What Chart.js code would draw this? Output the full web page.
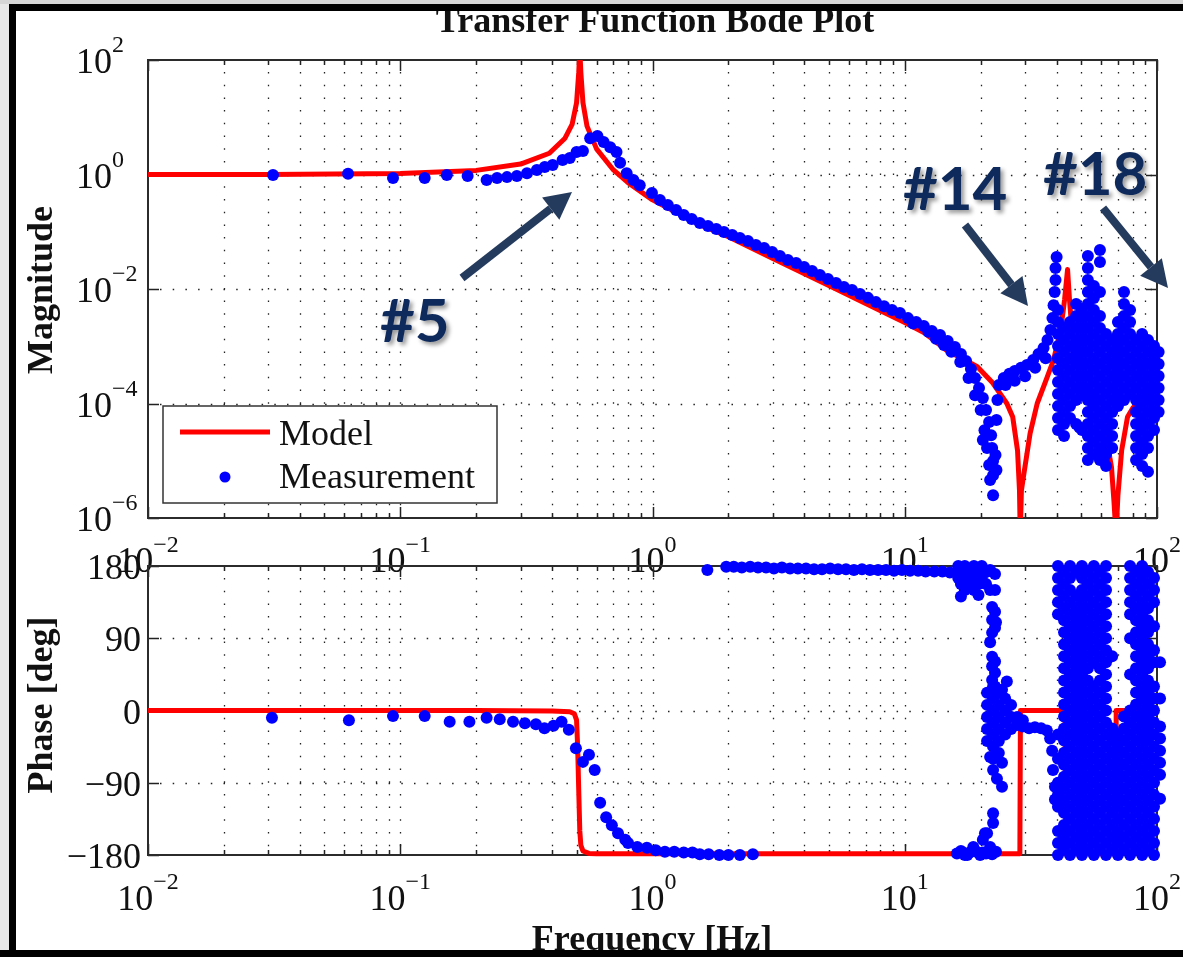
<!DOCTYPE html>
<html>
<head>
<meta charset="utf-8">
<title>Transfer Function Bode Plot</title>
<script src="https://cdn.jsdelivr.net/npm/chart.js@4.4.1/dist/chart.umd.min.js"></script>
<style>
  body { margin: 0; background: #fff; }
  #page { position: relative; width: 1183px; height: 957px; overflow: hidden; background: #fff; }
  #page canvas { position: absolute; left: 0; top: 0; }
  .frame { position: absolute; background: #000; }
</style>
</head>
<body>
<div id="page">
  <canvas id="magChart" width="1183" height="957"></canvas>
  <canvas id="phaseChart" width="1183" height="957"></canvas>
  <div class="frame" style="left:0;top:0;width:1183px;height:4px;background:#d6d6d6"></div>
  <div class="frame" style="left:0;top:4px;width:1183px;height:7px"></div>
  <div class="frame" style="left:0;top:4px;width:9px;height:953px;background:#e8e8e8"></div>
  <div class="frame" style="left:9px;top:4px;width:7px;height:953px"></div>
  <div class="frame" style="left:0;top:950px;width:1183px;height:7px"></div>
</div>
<script>
// ---- eixos / ticks ----
const xMajor = [0.01, 0.1, 1, 10, 100];
const xMajorExp = [-2, -1, 0, 1, 2];
const xMinor = [0.02, 0.03, 0.04, 0.05, 0.06, 0.07, 0.08, 0.09,
                0.2, 0.3, 0.4, 0.5, 0.6, 0.7, 0.8, 0.9,
                2, 3, 4, 5, 6, 7, 8, 9,
                20, 30, 40, 50, 60, 70, 80, 90];
const magTicks = [1e-6, 1e-4, 1e-2, 1, 100];
const magTickExp = [-6, -4, -2, 0, 2];
const phaseTicks = [-180, -90, 0, 90, 180];
const phaseTickLabels = ['\u2212180', '\u221290', '0', '90', '180'];

// ---- modelo (linha vermelha) ----
const modelMag = [
  [0.01, 1.0], [0.03, 1.0], [0.1, 1.04], [0.2, 1.18], [0.3, 1.52], [0.39, 2.35], [0.45, 4.3],
  [0.48, 7.5], [0.50, 18], [0.51, 60], [0.515, 150], [0.52, 60], [0.53, 18], [0.55, 7.0],
  [0.6, 2.8], [0.7, 1.2], [0.8, 0.72], [1.0, 0.36], [1.5, 0.14], [2.0, 0.082], [3.0, 0.034],
  [5.0, 0.0115], [7.0, 0.0056], [10, 0.0026], [12, 0.0017], [14.6, 8.6e-4], [17, 6.0e-4],
  [19.4, 4.4e-4], [22.3, 2.3e-4], [25.4, 1.0e-4], [26.8, 5.8e-5], [28.0, 1.5e-5], [28.5, 3e-6],
  [28.7, 5e-7], [29.0, 3e-6], [29.5, 5e-6], [31.4, 3e-5], [33.5, 1e-4], [36.7, 2.9e-4],
  [38.9, 5.8e-4], [41.5, 1.9e-3], [43, 6.4e-3], [44.2, 0.022], [45, 6.4e-3], [46, 1.9e-3],
  [48, 5.8e-4], [50.9, 2.3e-4], [56, 1.1e-4], [61, 5.8e-5], [66, 7.7e-6], [67.5, 2e-6],
  [68.8, 5e-7], [70, 2.5e-6], [72.4, 1.5e-5], [76.4, 5.8e-5], [80.3, 8.4e-5], [89, 1.2e-4],
  [100, 1.6e-4]
];
const modelPhase = [
  [0.01, 0], [0.2, 0], [0.4, -0.5], [0.47, -1.5], [0.49, -4], [0.50, -12], [0.505, -45],
  [0.51, -100], [0.515, -150], [0.52, -168], [0.53, -175], [0.56, -178], [0.6, -178.5],
  [28.6, -178.5], [28.75, 0], [43.2, 0], [43.4, -178.5], [68.7, -178.5], [68.9, 0], [100, 0]
];

// ---- medição: magnitude ----
const measMagLow = [
  [0.0313, 0.98], [0.0621, 1.03], [0.0936, 0.87], [0.125, 0.87], [0.153, 0.98], [0.185, 0.94],
  [0.22, 0.80], [0.242, 0.87], [0.265, 0.90], [0.29, 0.94], [0.318, 1.05], [0.348, 1.2],
  [0.374, 1.35], [0.402, 1.47], [0.44, 1.79], [0.47, 1.94], [0.50, 2.47], [0.53, 2.57],
  [0.566, 4.3], [0.605, 4.7], [0.64, 3.7], [0.68, 3.0], [0.72, 2.47], [0.744, 1.6],
  [0.79, 1.05], [0.84, 0.80], [0.89, 0.65]
];
const measMagBand = [
  [0.995, 0.475], [1.07, 0.359], [1.15, 0.293], [1.24, 0.240], [1.33, 0.196], [1.43, 0.167],
  [1.54, 0.142], [1.66, 0.126], [1.79, 0.112], [1.92, 0.099], [2.07, 0.0877], [2.22, 0.0778],
  [2.39, 0.0689], [2.57, 0.0587], [2.77, 0.052], [2.98, 0.0443], [3.20, 0.0377], [3.44, 0.0321],
  [3.71, 0.0285], [3.99, 0.0242], [4.29, 0.0206], [4.61, 0.0176], [4.96, 0.0150], [5.34, 0.0127],
  [5.74, 0.0108], [6.18, 0.0096], [6.65, 0.0082], [7.15, 0.0070], [7.69, 0.0059], [8.28, 0.0050],
  [8.90, 0.0043], [9.57, 0.0038], [10.3, 0.0031], [11.1, 0.00265], [11.9, 0.00226], [12.8, 0.00185],
  [13.8, 0.00157], [14.8, 0.00124], [15.8, 9.7e-4], [16.7, 7.3e-4], [17.5, 5.5e-4], [18.3, 4.0e-4],
  [19.0, 2.8e-4], [19.7, 1.87e-4], [20.4, 1.25e-4], [21.0, 7.7e-5], [21.6, 4.75e-5], [22.0, 2.8e-5],
  [22.2, 1.67e-5], [22.4, 9.9e-6], [22.4, 5.6e-6], [22.4, 2.5e-6],
  [10.8, 0.0025], [12.4, 0.0018], [13.3, 0.00135], [14.3, 0.00105], [15.3, 8.0e-4],
  [16.6, 5.3e-4], [17.9, 2.8e-4], [19.0, 1.4e-4], [20.0, 7.7e-5], [20.7, 3.4e-5], [21.2, 1.67e-5],
  [21.6, 8.4e-6], [20.4, 2.3e-5], [22.9, 1.26e-5], [23.1, 6.9e-6], [21.8, 4.6e-6]
];
const measMagRise = [
  [23.1, 5.15e-5], [23.3, 1.15e-4], [23.6, 2.1e-4], [24.7, 2.8e-4], [26.0, 3.3e-4], [27.3, 3.7e-4],
  [28.9, 4.2e-4], [30.5, 4.7e-4], [32.3, 5.75e-4], [33.9, 7.3e-4], [35.5, 9.3e-4], [36.8, 1.29e-3],
  [37.8, 1.92e-3], [38.5, 3.1e-3], [38.9, 5.2e-3], [39.3, 8.9e-3], [39.6, 0.0144], [39.6, 0.0233],
  [40.0, 0.0362], [25.1, 2.1e-4], [27.3, 2.5e-4], [30.0, 3.0e-4], [32.9, 4.2e-4], [36.2, 6.2e-4],
  [49.3, 3.8e-5], [61.5, 1.03e-5], [60.1, 1.5e-5]
];
// colunas da região ruidosa (acima de ~40 Hz)
const magNoiseFreq = [40.5, 42.8, 45.2, 47.8, 50.4, 53.2, 56.2, 59.4, 62.8, 66.4, 70.0, 74.0,
                      78.2, 82.6, 87.3, 92.1, 97.3, 101.5];
const magNoiseCols = [
  [0.0043, 0.00265, 0.00164, 0.00101, 6.2e-4, 3.85e-4, 2.38e-4, 1.47e-4, 9.0e-5, 5.6e-5, 3.44e-5],
  [0.00208, 0.00129, 7.9e-4, 4.9e-4, 3.02e-4, 1.87e-4, 1.15e-4, 7.1e-5, 4.4e-5, 2.7e-5],
  [0.00265, 0.00164, 0.00101, 6.2e-4, 3.85e-4, 2.38e-4, 1.47e-4, 9.0e-5, 5.6e-5],
  [0.00547, 0.00338, 0.00208, 0.00129, 7.9e-4, 4.9e-4, 3.02e-4, 1.87e-4, 1.15e-4, 4.4e-5],
  [0.0043, 0.00265, 0.00164, 0.00101, 6.2e-4, 3.85e-4, 2.38e-4, 1.47e-4, 3.44e-5],
  [0.0377, 0.0233, 0.0144, 0.00887, 0.00547, 0.00338, 0.00208, 0.00129, 7.9e-4, 4.9e-4, 3.02e-4,
   1.87e-4, 1.15e-4, 7.1e-5, 4.4e-5, 2.7e-5, 1.67e-5, 1.03e-5],
  [0.01127, 0.00697, 0.0043, 0.00265, 0.00164, 0.00101, 6.2e-4, 3.85e-4, 2.38e-4, 1.47e-4, 9.0e-5,
   5.6e-5, 3.44e-5, 2.13e-5, 1.31e-5],
  [0.048, 0.0296, 0.00887, 0.00338, 0.00208, 0.00129, 7.9e-4, 4.9e-4, 3.02e-4, 1.87e-4, 1.15e-4,
   7.1e-5, 4.4e-5, 2.7e-5, 1.67e-5, 1.03e-5],
  [0.00164, 0.00101, 6.2e-4, 3.85e-4, 2.38e-4, 1.47e-4, 9.0e-5, 5.6e-5, 3.44e-5, 2.13e-5, 1.31e-5, 8.1e-6],
  [0.00129, 7.9e-4, 4.9e-4, 3.02e-4, 1.87e-4, 1.15e-4, 7.1e-5, 4.4e-5, 2.7e-5, 1.67e-5],
  [0.00265, 0.00164, 0.00101, 6.2e-4, 3.85e-4, 2.38e-4, 1.47e-4, 9.0e-5],
  [0.00887, 0.00547, 0.00338, 0.00208, 0.00129, 7.9e-4, 4.9e-4, 3.02e-4, 1.87e-4, 1.15e-4],
  [0.0043, 0.00265, 0.00164, 0.00101, 6.2e-4, 3.85e-4, 2.38e-4, 1.47e-4],
  [0.00129, 7.9e-4, 4.9e-4, 3.02e-4, 1.87e-4, 1.15e-4, 7.1e-5, 4.4e-5, 2.7e-5, 1.67e-5, 1.03e-5],
  [0.00164, 0.00101, 6.2e-4, 3.85e-4, 2.38e-4, 1.47e-4, 9.0e-5, 5.6e-5, 3.44e-5, 2.13e-5, 1.31e-5, 8.1e-6],
  [0.00129, 7.9e-4, 4.9e-4, 3.02e-4, 1.87e-4, 1.15e-4, 7.1e-5, 4.4e-5, 2.7e-5, 1.67e-5, 6.4e-6],
  [0.00101, 6.2e-4, 3.85e-4, 2.38e-4, 1.47e-4, 9.0e-5, 5.6e-5, 3.44e-5],
  [7.9e-4, 4.9e-4, 3.02e-4, 1.87e-4, 1.15e-4, 7.1e-5]
];

// ---- medição: fase ----
const measPhaseLow = [
  [0.031, -9], [0.0626, -12], [0.0936, -7], [0.125, -7], [0.157, -14], [0.188, -14], [0.22, -9],
  [0.248, -11], [0.28, -14], [0.312, -16], [0.345, -17], [0.373, -22], [0.405, -19], [0.436, -14],
  [0.466, -24], [0.497, -47], [0.53, -64], [0.56, -55], [0.59, -74], [0.62, -115], [0.655, -133],
  [0.69, -143], [0.73, -153], [0.78, -161], [0.80, -165], [0.87, -170], [0.95, -171], [1.03, -174],
  [1.12, -176], [1.22, -176], [1.33, -177], [1.44, -177], [1.54, -179], [1.67, -179], [1.84, -180],
  [2.0, -180], [2.22, -180], [2.5, -179]
];
const measPhaseWrap = [
  [1.65, 175], [1.96, 179], [2.10, 179], [2.26, 178], [2.44, 179], [2.62, 178], [2.82, 178],
  [3.03, 177], [3.26, 178], [3.51, 177], [3.77, 177], [4.06, 177], [4.37, 176], [4.70, 176],
  [5.06, 177], [5.44, 176], [5.85, 176], [6.29, 175], [6.77, 176], [7.28, 175], [7.84, 175],
  [8.43, 175], [9.07, 174], [9.75, 175], [10.5, 174], [11.3, 174], [12.1, 173], [13.1, 173],
  [14.1, 173], [15.1, 172], [16.3, 172]
];
const measPhaseMid = [
  [16.3, 180], [16.3, 165], [16.7, 172.5], [16.7, 157.5], [16.7, 142], [17.3, 180], [17.3, 165],
  [17.3, 150], [18.1, 172.5], [18.1, 157.5], [18.8, 180], [18.8, 165], [18.8, 150], [19.6, 172.5],
  [19.6, 157.5], [19.6, 144], [20.2, 180], [20.2, 165], [21.0, 172.5], [21.0, 157.5], [21.8, 175],
  [21.8, 150], [22.8, 170], [22.8, 150],
  [22.2, 129], [22.2, 113], [22.2, 97], [22.2, 67], [22.2, 55], [22.2, 38], [22.8, 123], [22.8, 103],
  [22.8, 61], [22.8, 47], [22.8, 30], [25.4, 36], [24.3, 26], [23.0, 110], [21.8, 85],
  [21.2, 22], [21.2, 7], [21.2, -8], [21.2, -23], [21.2, -38],
  [22.4, 30], [22.4, 15], [22.4, 0], [22.4, -15], [22.4, -30], [22.4, -45], [22.4, -60],
  [23.6, 22], [23.6, 7], [23.6, -8], [23.6, -23], [23.6, -38], [23.6, -53],
  [25.0, 15], [25.0, 0], [25.0, -15], [25.0, -30], [26.4, 7], [26.4, -8], [26.4, -23],
  [27.9, -18], [29.4, -20], [31.1, -22], [32.8, -21], [34.7, -22], [36.6, -25], [27.9, -8], [29.4, -12],
  [37.7, -35], [38.4, -50], [38.7, -74], [39.4, -95], [39.4, -111],
  [21.8, -58], [22.4, -74], [24.3, -65], [24.3, -95], [23.2, -85], [22.4, -128], [22.4, -140],
  [20.8, -153], [20.4, -161], [18.7, -170], [17.0, -177], [20.4, -177], [17.7, -180], [19.3, -176],
  [21.8, -170], [21.2, -153],
  [16.1, -178], [16.7, -175], [17.3, -180], [18.1, -177], [19.9, -180], [21.0, -178], [22.2, -179],
  [23.0, -176]
];
const phaseNoiseFreq = [40.5, 42.8, 45.2, 47.8, 50.4, 53.2, 56.2, 59.4, 62.8, 66.4, 70.0, 74.0,
                        78.2, 82.6, 87.3, 92.1, 97.3, 102.8];
const phaseNoiseCols = [
  [180, 165, 150, 135, 120, -30, -60, -90, -105, -120, -150, -165, -180],
  [172.5, 157.5, 142.5, 127.5, 112.5, 97.5, 82.5, 67.5, 52.5, 37.5, 22.5, 7.5, -7.5, -22.5, -37.5,
   -52.5, -67.5, -82.5, -97.5, -112.5, -127.5, -142.5, -157.5, -172.5],
  [180, 165, 150, 135, 120, 105, 90, 75, 60, 45, 30, 15, 0, -15, -30, -45, -60, -75, -90, -105,
   -120, -135, -150, -165, -180],
  [172.5, 142.5, 127.5, 112.5, 97.5, 82.5, 67.5, 52.5, 37.5, 22.5, 7.5, -7.5, -22.5, -37.5,
   -52.5, -67.5, -82.5, -97.5, -112.5, -127.5, -142.5, -157.5, -172.5],
  [180, 165, 150, 135, 120, 105, 90, 75, 60, 45, 30, 15, 0, -15, -30, -45, -60, -75, -90, -105,
   -120, -135, -150, -165, -180],
  [172.5, 157.5, 142.5, 127.5, 112.5, 97.5, 82.5, 67.5, 52.5, 37.5, 22.5, 7.5, -7.5, -22.5, -37.5,
   -52.5, -67.5, -82.5, -97.5, -112.5, -127.5, -142.5, -157.5, -172.5],
  [180, 165, 150, 135, 120, 105, 90, 75, 60, 30, 15, 0, -15, -30, -45, -60, -75, -90, -105,
   -120, -135, -150, -165, -180],
  [172.5, 157.5, 142.5, 127.5, 112.5, 97.5, 82.5, 67.5, 52.5, 37.5, 22.5, 7.5, -7.5, -22.5, -37.5,
   -52.5, -67.5, -82.5, -97.5, -112.5, -127.5, -142.5, -157.5, -172.5],
  [180, 165, 150, 135, 120, 105, 90, 75, 60, 45, 30, 15, 0, -15, -30, -45, -60, -75, -90, -105,
   -120, -135, -150, -165, -180],
  [67.5, -22.5, -37.5, -52.5, -67.5, -82.5, -97.5, -112.5, -127.5, -142.5, -157.5, -172.5],
  [-30, -45, -60, -75, -90, -105, -120, -135, -150, -165, -180],
  [-7.5, -22.5, -37.5, -52.5, -67.5, -82.5, -97.5, -112.5, -127.5, -142.5, -157.5, -172.5],
  [180, 165, 150, 135, 120, 90, 45, 0, -15, -30, -45, -60, -75, -90, -105, -120, -135, -150, -165, -180],
  [172.5, 157.5, 142.5, 127.5, 112.5, 97.5, 82.5, 67.5, 52.5, 37.5, 22.5, 7.5, -7.5, -22.5, -37.5,
   -52.5, -67.5, -82.5, -97.5, -112.5, -127.5, -142.5, -157.5, -172.5],
  [180, 165, 150, 135, 120, 105, 90, 75, 60, 45, 30, 15, 0, -15, -30, -45, -60, -75, -90, -105,
   -120, -135, -150, -165, -180],
  [172.5, 157.5, 142.5, 127.5, 112.5, 97.5, 82.5, 67.5, 52.5, 37.5, 22.5, 7.5, -7.5, -22.5, -37.5,
   -52.5, -67.5, -82.5, -97.5, -112.5, -127.5, -142.5, -157.5, -172.5],
  [165, 150, 135, 105, 75, 60, 30, 15, 0, -15, -30, -45, -60, -75, -90, -105, -120, -135, -150,
   -165, -180],
  [60, 15, -20, -35, -50, -65, -80, -110]
];

// ---- estilos ----
const SERIF = '"Liberation Serif", "Times New Roman", Times, serif';
const RED = '#ff0000';
const BLUE = '#0000ff';
const INK = '#111111';
const DOT = 6;

const toPts = pairs => pairs.map(([x, y]) => ({ x, y }));
const colsToPts = (freqs, cols) => freqs.flatMap((f, i) => cols[i].map(v => ({ x: f, y: v })));

// "10" com expoente sobrescrito
function drawPow(ctx, exp, x, baseY, supDy, align) {
  const sup = exp < 0 ? '\u2212' + Math.abs(exp) : String(exp);
  ctx.font = '36px ' + SERIF;
  const wb = ctx.measureText('10').width;
  ctx.font = '24px ' + SERIF;
  const ws = ctx.measureText(sup).width;
  const left = align === 'center' ? x - (wb + ws) / 2 : x;
  ctx.textAlign = 'left';
  ctx.textBaseline = 'alphabetic';
  ctx.fillStyle = INK;
  ctx.font = '36px ' + SERIF;
  ctx.fillText('10', left, baseY);
  ctx.font = '24px ' + SERIF;
  ctx.fillText(sup, left + wb, baseY - supDy);
}

// grade pontilhada, ticks e caixa no estilo MATLAB (desenhados sob os dados)
function axesPlugin(yTicks) {
  return {
    id: 'bodeAxes',
    beforeDatasetsDraw(chart) {
      const { ctx, chartArea: a } = chart;
      const xs = chart.scales.x, ys = chart.scales.y;
      const xAll = xMajor.concat(xMinor);
      ctx.save();
      ctx.beginPath();
      ctx.strokeStyle = '#222';
      ctx.lineWidth = 1.3;
      ctx.setLineDash([1.5, 11.2]);
      xAll.forEach(v => {
        const px = Math.round(xs.getPixelForValue(v)) + 0.5;
        if (px < a.left + 2 || px > a.right - 2) return;
        ctx.moveTo(px, a.top + 12);
        ctx.lineTo(px, a.bottom);
      });
      yTicks.forEach(v => {
        const py = Math.round(ys.getPixelForValue(v)) + 0.5;
        if (py < a.top + 2 || py > a.bottom - 2) return;
        ctx.moveTo(a.left + 12, py);
        ctx.lineTo(a.right, py);
      });
      ctx.stroke();
      ctx.setLineDash([]);

      ctx.beginPath();
      ctx.lineWidth = 1.5;
      xAll.forEach(v => {
        const px = Math.round(xs.getPixelForValue(v)) + 0.5;
        const len = xMajor.includes(v) ? 11 : 5;
        ctx.moveTo(px, a.bottom); ctx.lineTo(px, a.bottom - len);
        ctx.moveTo(px, a.top); ctx.lineTo(px, a.top + len);
      });
      yTicks.forEach(v => {
        const py = Math.round(ys.getPixelForValue(v)) + 0.5;
        ctx.moveTo(a.left, py); ctx.lineTo(a.left + 11, py);
        ctx.moveTo(a.right, py); ctx.lineTo(a.right - 11, py);
      });
      ctx.stroke();

      ctx.lineWidth = 2;
      ctx.strokeStyle = '#2b2b2b';
      ctx.strokeRect(a.left, a.top, a.right - a.left, a.bottom - a.top);
      ctx.restore();
    }
  };
}

function drawArrow(ctx, x0, y0, x1, y1) {
  const ang = Math.atan2(y1 - y0, x1 - x0);
  const headLen = 27, headW = 14;
  const bx = x1 - headLen * Math.cos(ang), by = y1 - headLen * Math.sin(ang);
  ctx.strokeStyle = '#243b5e';
  ctx.fillStyle = '#243b5e';
  ctx.lineWidth = 8;
  ctx.lineCap = 'butt';
  ctx.beginPath(); ctx.moveTo(x0, y0); ctx.lineTo(bx, by); ctx.stroke();
  ctx.beginPath();
  ctx.moveTo(x1, y1);
  ctx.lineTo(bx + headW * Math.sin(ang), by - headW * Math.cos(ang));
  ctx.lineTo(bx - headW * Math.sin(ang), by + headW * Math.cos(ang));
  ctx.closePath();
  ctx.fill();
}

// textos do gráfico de magnitude: ticks, título, legenda, anotações
const magLabels = {
  id: 'magLabels',
  afterDraw(chart) {
    const { ctx } = chart;
    const xs = chart.scales.x, ys = chart.scales.y;
    ctx.save();
    magTicks.forEach((v, i) => drawPow(ctx, magTickExp[i], 76, ys.getPixelForValue(v) + 13, 21, 'left'));
    xMajor.forEach((v, i) => drawPow(ctx, xMajorExp[i], xs.getPixelForValue(v), 572, 20, 'center'));

    ctx.fillStyle = INK;
    ctx.textAlign = 'center';
    ctx.font = 'bold 36px ' + SERIF;
    ctx.fillText('Transfer Function Bode Plot', 655, 32);

    ctx.save();
    ctx.translate(52, 290);
    ctx.rotate(-Math.PI / 2);
    ctx.fillText('Magnitude', 0, 0);
    ctx.restore();

    // legenda
    ctx.fillStyle = '#fff';
    ctx.fillRect(163, 406, 334, 97);
    ctx.strokeStyle = '#333';
    ctx.lineWidth = 1.5;
    ctx.strokeRect(163, 406, 334, 97);
    ctx.strokeStyle = RED;
    ctx.lineWidth = 5;
    ctx.beginPath(); ctx.moveTo(180, 432); ctx.lineTo(270, 432); ctx.stroke();
    ctx.fillStyle = BLUE;
    ctx.beginPath(); ctx.arc(225, 477, 5.5, 0, Math.PI * 2); ctx.fill();
    ctx.fillStyle = INK;
    ctx.textAlign = 'left';
    ctx.font = '36px ' + SERIF;
    ctx.fillText('Model', 279, 445);
    ctx.fillText('Measurement', 279, 488);

    // anotações de modos
    drawArrow(ctx, 462, 278, 572, 192);
    drawArrow(ctx, 965, 225, 1028, 306);
    drawArrow(ctx, 1103, 208, 1168, 288);
    ctx.font = 'bold 60px Lato, "Open Sans", sans-serif';
    ctx.fillStyle = '#0e2a5c';
    ctx.shadowColor = 'rgba(0,0,0,0.4)';
    ctx.shadowBlur = 4;
    ctx.shadowOffsetX = 3;
    ctx.shadowOffsetY = 3;
    ctx.fillText('#5', 380, 342);
    ctx.fillText('#14', 903, 210);
    ctx.fillText('#18', 1043, 195);
    ctx.restore();
  }
};

const phaseLabels = {
  id: 'phaseLabels',
  afterDraw(chart) {
    const { ctx } = chart;
    const xs = chart.scales.x, ys = chart.scales.y;
    ctx.save();
    ctx.fillStyle = INK;
    ctx.textAlign = 'right';
    ctx.font = '36px ' + SERIF;
    phaseTicks.forEach((v, i) => ctx.fillText(phaseTickLabels[i], 141, ys.getPixelForValue(v) + 13));
    xMajor.forEach((v, i) => drawPow(ctx, xMajorExp[i], xs.getPixelForValue(v), 910, 21, 'center'));

    ctx.fillStyle = INK;
    ctx.textAlign = 'center';
    ctx.font = 'bold 36px ' + SERIF;
    ctx.fillText('Frequency [Hz]', 652, 950);
    ctx.save();
    ctx.translate(52, 705);
    ctx.rotate(-Math.PI / 2);
    ctx.fillText('Phase [deg]', 0, 0);
    ctx.restore();
    ctx.restore();
  }
};

const baseOptions = (padding, yScale) => ({
  responsive: false,
  animation: false,
  devicePixelRatio: 1,
  events: [],
  layout: { padding },
  plugins: { legend: { display: false }, tooltip: { enabled: false }, title: { display: false } },
  scales: {
    x: { type: 'logarithmic', min: 0.01, max: 100, display: false },
    y: Object.assign({ display: false }, yScale)
  }
});

new Chart(document.getElementById('magChart'), {
  type: 'scatter',
  data: {
    datasets: [
      {
        label: 'Measurement',
        data: toPts(measMagLow).concat(toPts(measMagBand), toPts(measMagRise),
          colsToPts(magNoiseFreq, magNoiseCols)),
        pointRadius: DOT,
        pointBackgroundColor: BLUE,
        pointBorderColor: BLUE,
        pointBorderWidth: 0,
        clip: false,
        order: 0
      },
      {
        label: 'Model',
        data: toPts(modelMag),
        showLine: true,
        pointRadius: 0,
        borderColor: RED,
        borderWidth: 5,
        borderJoinStyle: 'round',
        tension: 0,
        clip: 0,
        order: 1
      }
    ]
  },
  options: baseOptions({ left: 148, right: 26, top: 60, bottom: 439 },
    { type: 'logarithmic', min: 1e-6, max: 100 }),
  plugins: [axesPlugin(magTicks), magLabels]
});

new Chart(document.getElementById('phaseChart'), {
  type: 'scatter',
  data: {
    datasets: [
      {
        label: 'Measurement',
        data: toPts(measPhaseLow).concat(toPts(measPhaseWrap), toPts(measPhaseMid),
          colsToPts(phaseNoiseFreq, phaseNoiseCols)),
        pointRadius: DOT,
        pointBackgroundColor: BLUE,
        pointBorderColor: BLUE,
        pointBorderWidth: 0,
        clip: false,
        order: 0
      },
      {
        label: 'Model',
        data: toPts(modelPhase),
        showLine: true,
        pointRadius: 0,
        borderColor: RED,
        borderWidth: 5,
        borderJoinStyle: 'round',
        tension: 0,
        clip: false,
        order: 1
      }
    ]
  },
  options: baseOptions({ left: 148, right: 26, top: 566, bottom: 102 },
    { type: 'linear', min: -180, max: 180 }),
  plugins: [axesPlugin(phaseTicks), phaseLabels]
});
</script>
</body>
</html>
